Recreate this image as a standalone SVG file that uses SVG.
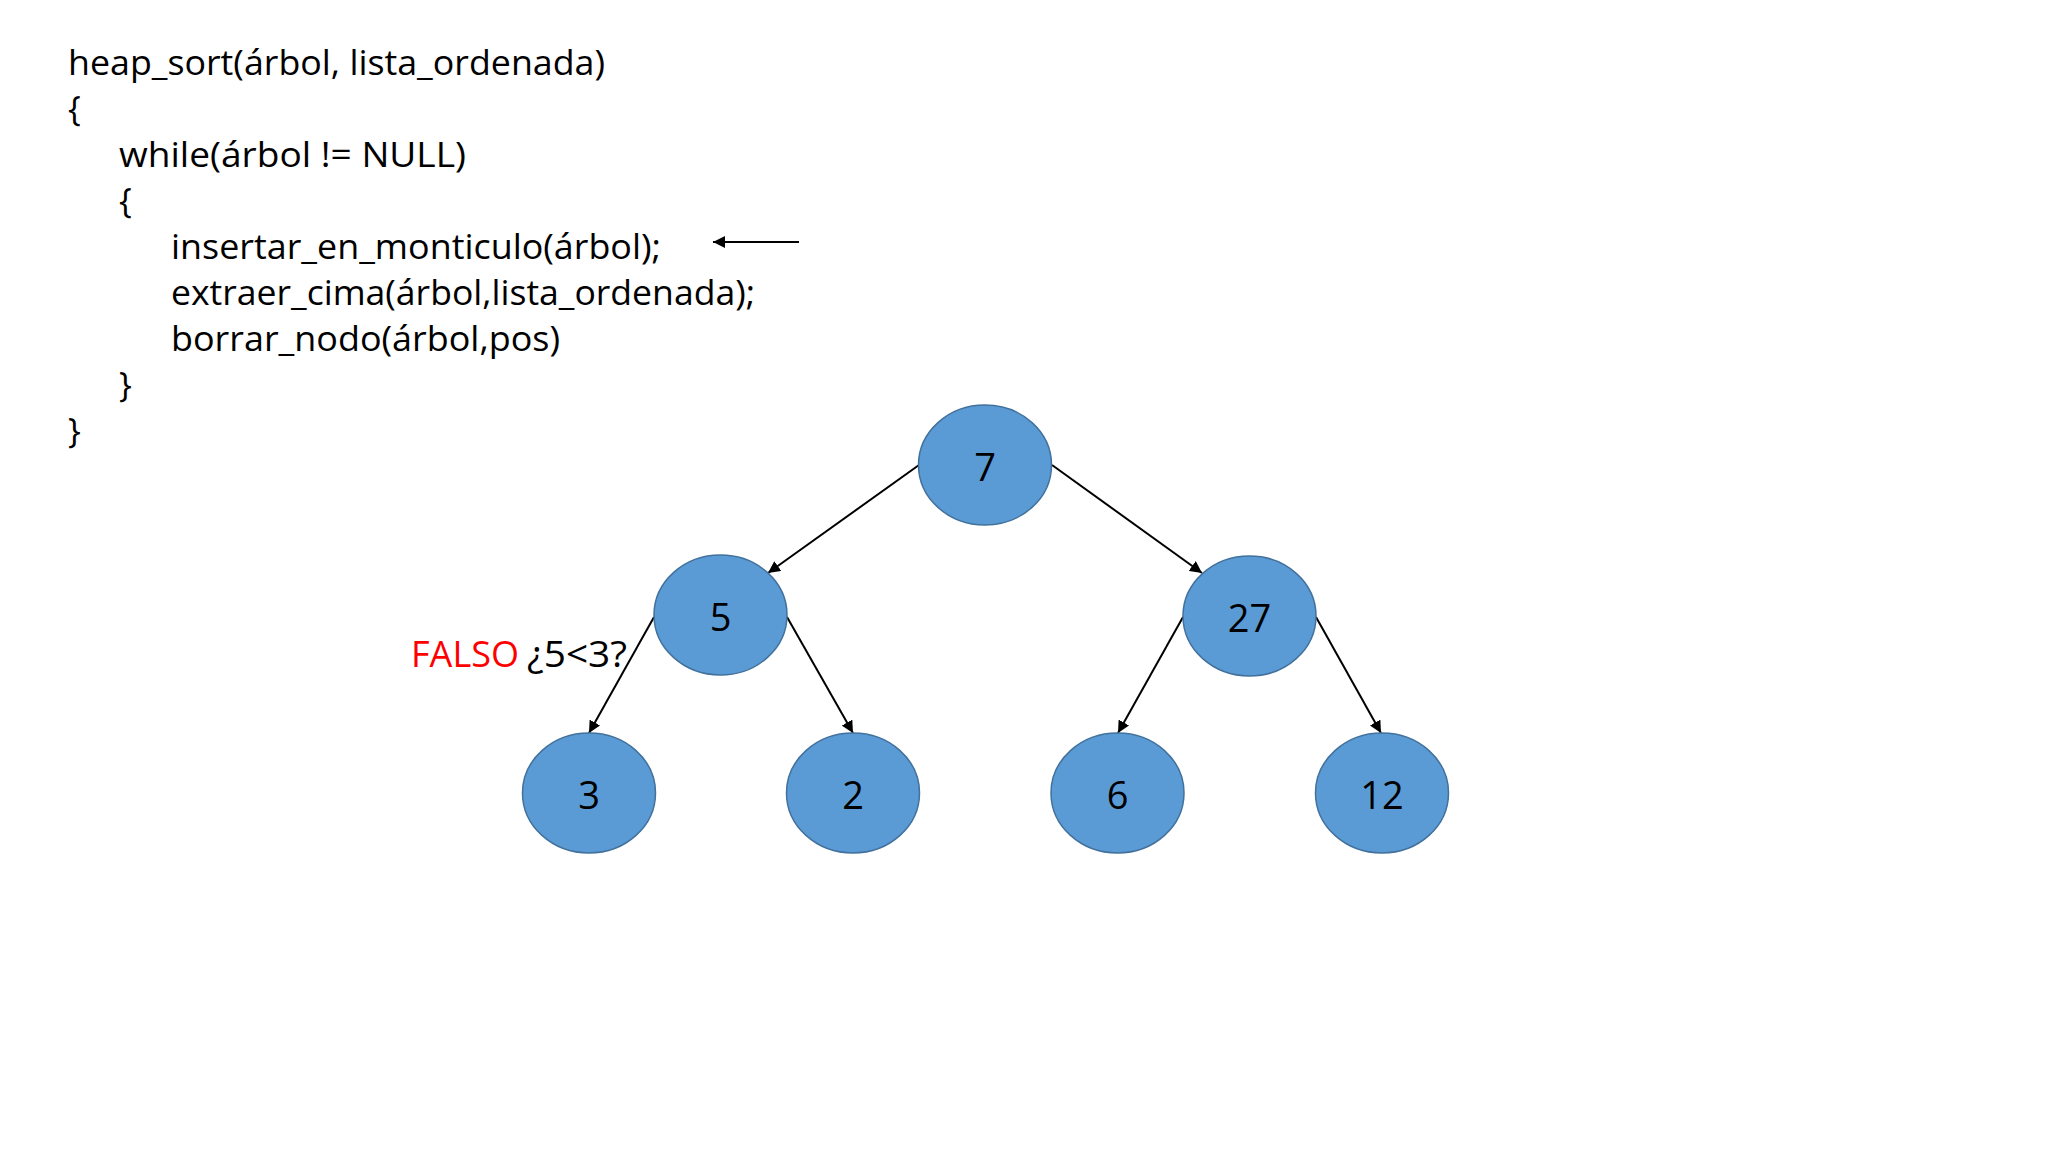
<svg xmlns="http://www.w3.org/2000/svg" width="2048" height="1152" viewBox="0 0 2048 1152">
<style>
.code{font-family:"Open Sans","Noto Sans","DejaVu Sans",sans-serif;font-size:34px;fill:#000}
.node ellipse{fill:#5B9BD5;stroke:#41719C;stroke-width:1.5}
.node text{font-family:"Open Sans","Noto Sans","DejaVu Sans",sans-serif;font-size:38px;fill:#000;text-anchor:middle}
.edge{stroke:#000;stroke-width:2;fill:none;marker-end:url(#arr)}
.lbl{font-family:"Open Sans","Noto Sans","DejaVu Sans",sans-serif;font-size:36px}
</style>
<defs>
<marker id="arr" viewBox="0 0 10 10" refX="10" refY="5" markerWidth="6" markerHeight="6" markerUnits="strokeWidth" orient="auto">
<path d="M0,0 L10,5 L0,10 z" fill="#000"/>
</marker>
</defs>
<rect width="2048" height="1152" fill="#fff"/>
<g id="code">
<text class="code" x="68" y="75" textLength="537" lengthAdjust="spacingAndGlyphs">heap_sort(árbol, lista_ordenada)</text>
<text class="code" x="68" y="121">{</text>
<text class="code" x="119" y="167" textLength="347" lengthAdjust="spacingAndGlyphs">while(árbol != NULL)</text>
<text class="code" x="119" y="213">{</text>
<text class="code" x="171" y="259" textLength="490" lengthAdjust="spacingAndGlyphs">insertar_en_monticulo(árbol);</text>
<text class="code" x="171" y="305" textLength="584" lengthAdjust="spacingAndGlyphs">extraer_cima(árbol,lista_ordenada);</text>
<text class="code" x="171" y="351" textLength="389" lengthAdjust="spacingAndGlyphs">borrar_nodo(árbol,pos)</text>
<text class="code" x="119" y="397">}</text>
<text class="code" x="68" y="443">}</text>
</g>
<g id="label">
<text class="lbl" x="411" y="667" fill="#FF0000" textLength="108" lengthAdjust="spacingAndGlyphs">FALSO</text>
<text class="lbl" x="527" y="667" fill="#000" textLength="100" lengthAdjust="spacingAndGlyphs">¿5&lt;3?</text>
</g>
<g id="connectors">
<line class="edge" x1="799" y1="242" x2="713" y2="242"/>
<line class="edge" x1="919" y1="465" x2="768" y2="573"/>
<line class="edge" x1="1052" y1="465" x2="1202" y2="573"/>
<line class="edge" x1="654" y1="617" x2="589" y2="733"/>
<line class="edge" x1="787" y1="617" x2="853" y2="733"/>
<line class="edge" x1="1183" y1="617" x2="1118" y2="733"/>
<line class="edge" x1="1316" y1="617" x2="1381" y2="733"/>
</g>
<g id="n7" class="node"><ellipse cx="985" cy="465" rx="66.5" ry="60"/><text x="985" y="481">7</text></g>
<g id="n5" class="node"><ellipse cx="720.5" cy="615" rx="66.5" ry="60"/><text x="720.5" y="631">5</text></g>
<g id="n27" class="node"><ellipse cx="1249.5" cy="616" rx="66.5" ry="60"/><text x="1249.5" y="632">27</text></g>
<g id="n3" class="node"><ellipse cx="589" cy="793" rx="66.5" ry="60"/><text x="589" y="809">3</text></g>
<g id="n2" class="node"><ellipse cx="853" cy="793" rx="66.5" ry="60"/><text x="853" y="809">2</text></g>
<g id="n6" class="node"><ellipse cx="1117.5" cy="793" rx="66.5" ry="60"/><text x="1117.5" y="809">6</text></g>
<g id="n12" class="node"><ellipse cx="1382" cy="793" rx="66.5" ry="60"/><text x="1382" y="809">12</text></g>
</svg>
